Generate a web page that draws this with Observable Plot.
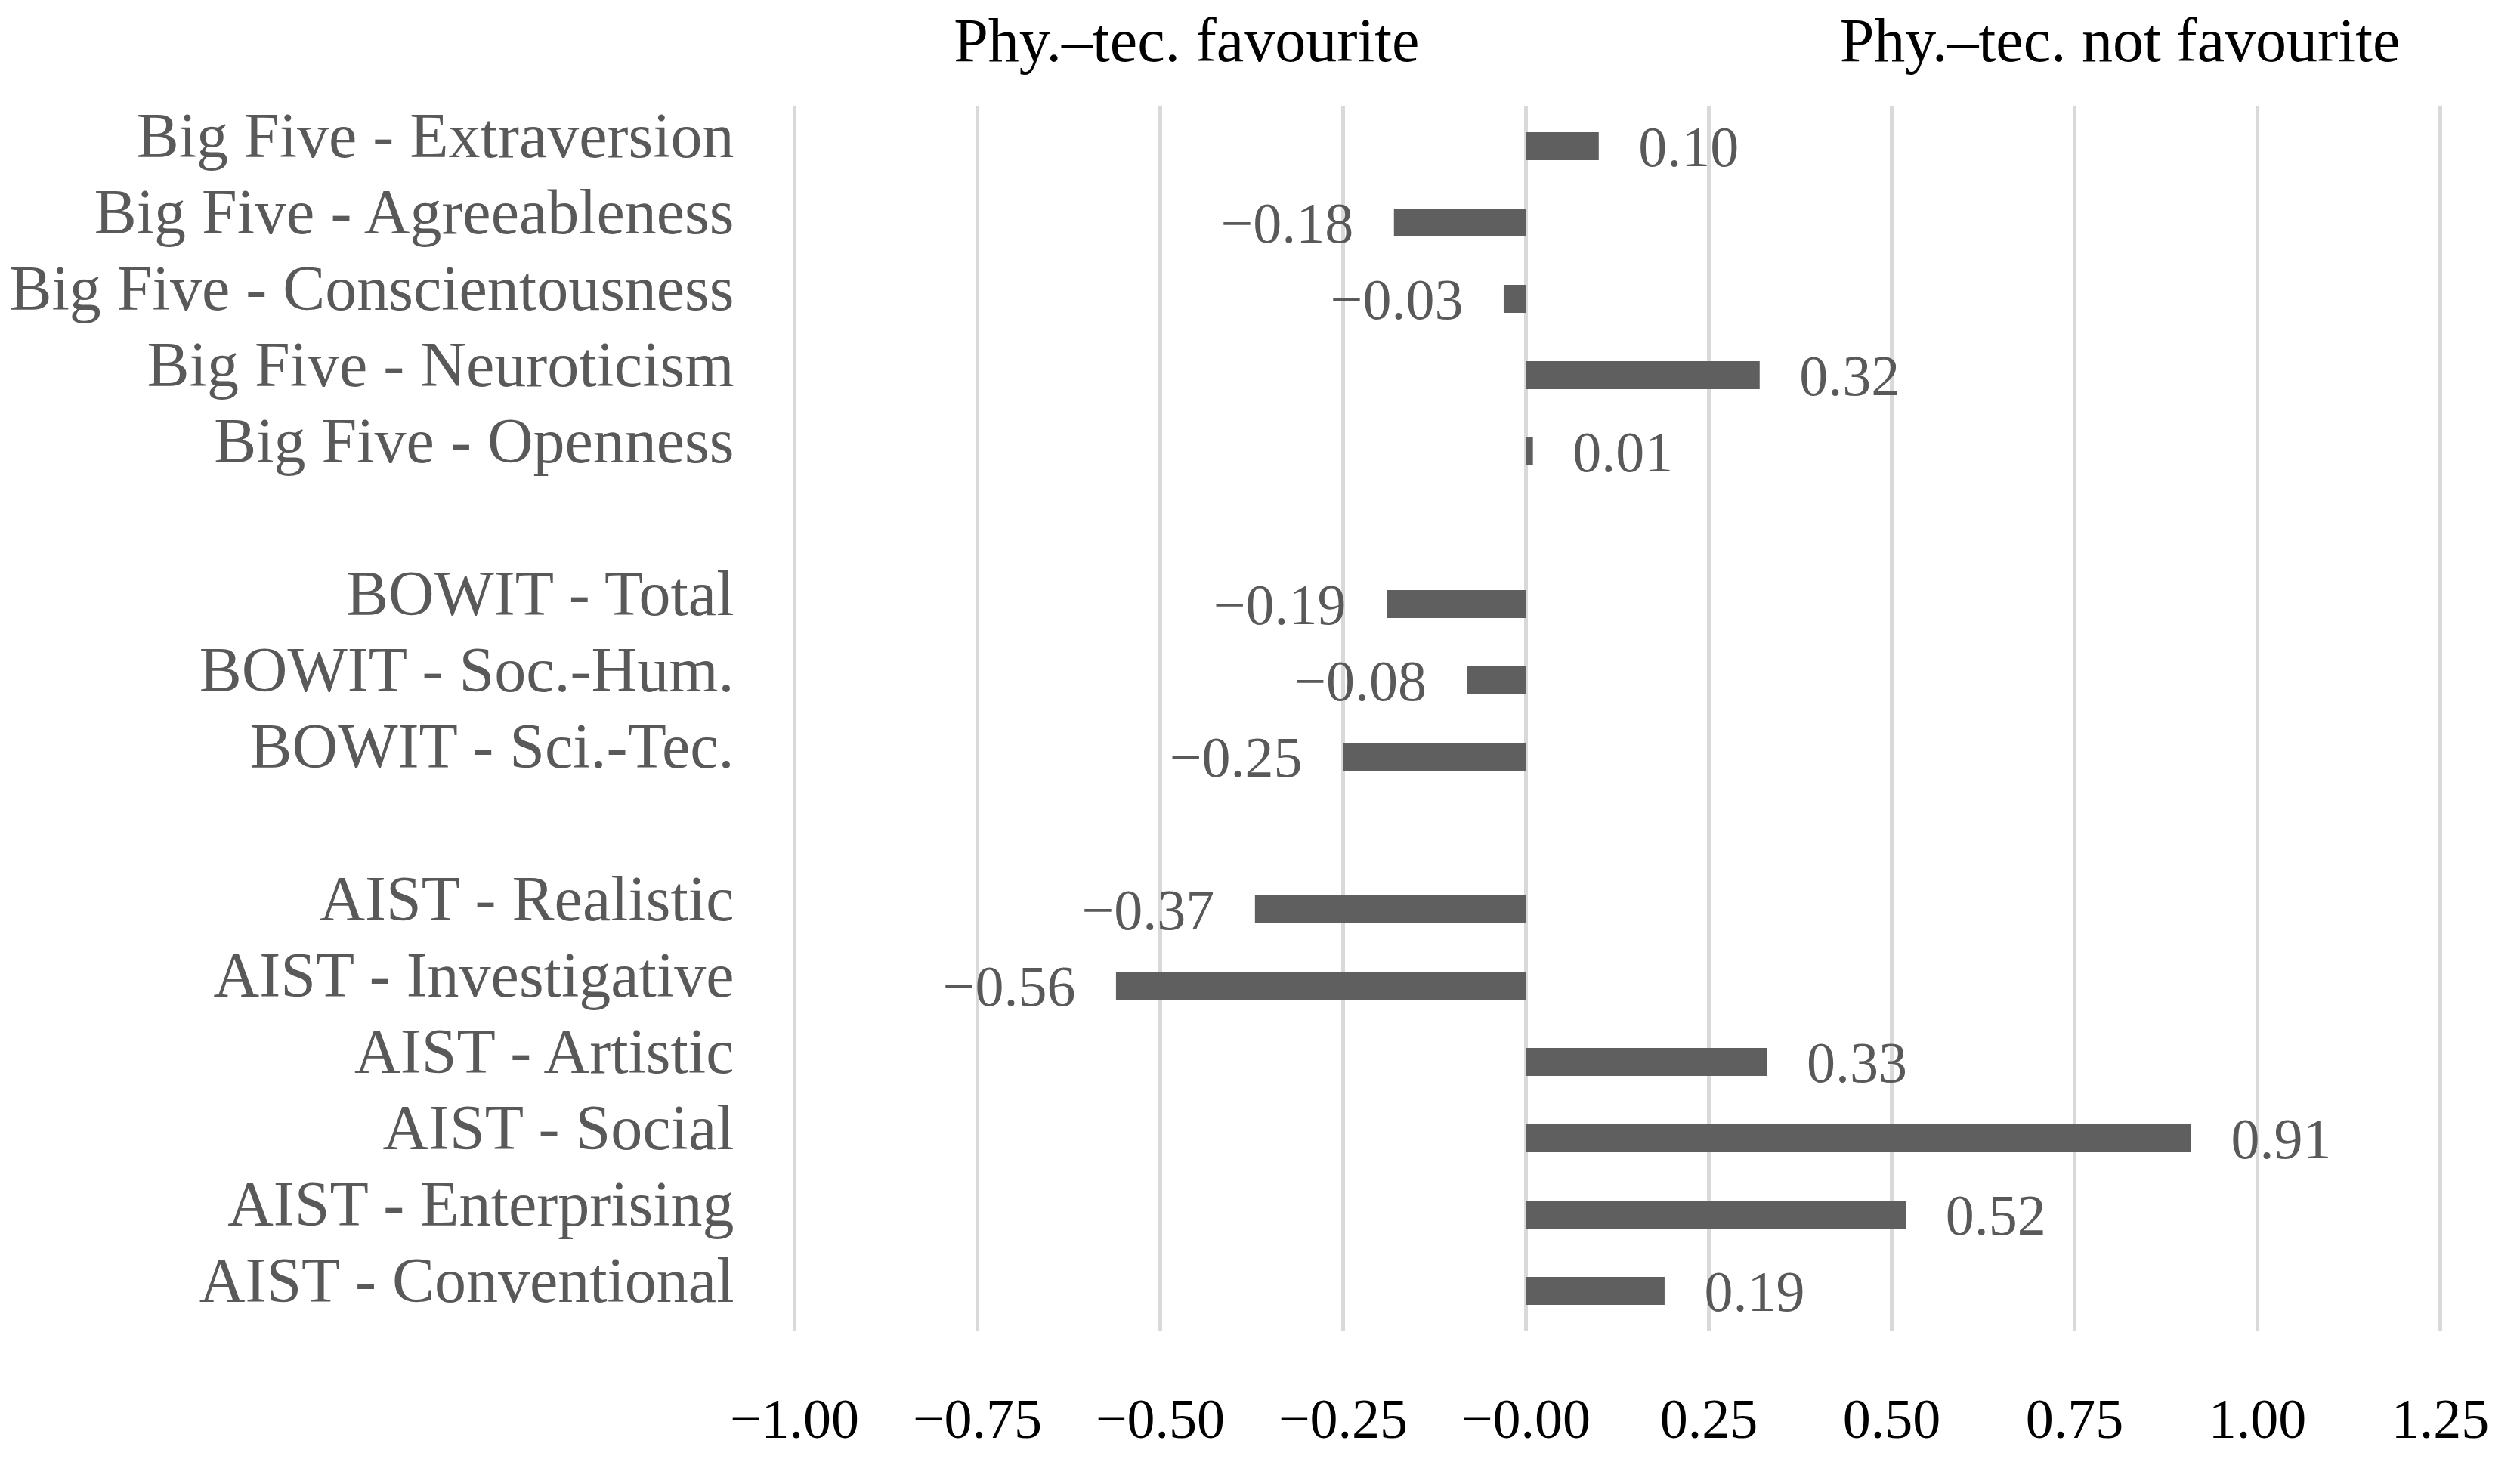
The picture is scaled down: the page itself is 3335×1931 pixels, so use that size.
<!DOCTYPE html>
<html>
<head>
<meta charset="utf-8">
<script src="https://cdn.jsdelivr.net/npm/d3@7"></script>
<script src="https://cdn.jsdelivr.net/npm/@observablehq/plot@0.6"></script>
<style>
  html, body { margin: 0; padding: 0; background: #ffffff; }
  #chart svg { display: block; }
</style>
</head>
<body>
<div id="chart"></div>
<script>
// ---- Data ----
const bigFive = ["Big Five - Extraversion", "Big Five - Agreeableness", "Big Five - Conscientousness", "Big Five - Neuroticism", "Big Five - Openness"];
const bigFiveValues = [0.10, -0.18, -0.03, 0.32, 0.01];

const bowit = ["BOWIT - Total", "BOWIT - Soc.-Hum.", "BOWIT - Sci.-Tec."];
const bowitValues = [-0.19, -0.08, -0.25];

const aist = ["AIST - Realistic", "AIST - Investigative", "AIST - Artistic", "AIST - Social", "AIST - Enterprising", "AIST - Conventional"];
const aistValues = [-0.37, -0.56, 0.33, 0.91, 0.52, 0.19];

const xTicks = [-1.00, -0.75, -0.50, -0.25, 0.00, 0.25, 0.50, 0.75, 1.00, 1.25];
const xTickLabels = ["−1.00", "−0.75", "−0.50", "−0.25", "−0.00", "0.25", "0.50", "0.75", "1.00", "1.25"];

const sideTitles = ["Phy.–tec. favourite", "Phy.–tec. not favourite"];

// ---- Build table ----
const categories = [...bigFive, ...bowit, ...aist];
const values = [...bigFiveValues, ...bowitValues, ...aistValues];
const data = categories.map((c, i) => ({category: c, value: values[i]}));
const rowDomain = [...bigFive, "gap-1", ...bowit, "gap-2", ...aist];
const tickLabelOf = new Map(xTicks.map((t, i) => [t, xTickLabels[i]]));
const fmt = d3.format(".2f");

const labelStyle = {x: "value", y: "category", text: d => fmt(d.value), fontSize: 76, fill: "#595959", dy: 2};

const chart = Plot.plot({
  width: 3335,
  height: 1931,
  marginLeft: 1051,
  marginRight: 106,
  marginTop: 140,
  marginBottom: 169,
  style: {fontFamily: "'Liberation Serif', serif", background: "#ffffff"},
  x: {domain: [-1, 1.25]},
  y: {domain: rowDomain, padding: 0},
  marks: [
    Plot.gridX(xTicks, {stroke: "#d9d9d9", strokeOpacity: 1, strokeWidth: 5}),
    Plot.barX(data, {x: "value", y: "category", fill: "#5f5f5f", insetTop: 32, insetBottom: 32}),
    Plot.text(data.filter(d => d.value < 0), {...labelStyle, textAnchor: "end", dx: -54}),
    Plot.text(data.filter(d => d.value >= 0), {...labelStyle, textAnchor: "start", dx: 52}),
    Plot.axisX({ticks: xTicks, tickFormat: d => tickLabelOf.get(d), tickSize: 0, tickPadding: 88, fontSize: 74, color: "#000000", label: null}),
    Plot.axisY({ticks: categories, tickSize: 0, tickPadding: 80, fontSize: 84, color: "#595959", dy: -13, label: null}),
    Plot.text(sideTitles, {x: [-0.464, 0.812], frameAnchor: "top", text: d => d, dy: -118, fontSize: 82, fill: "#000000"})
  ]
});
document.getElementById("chart").appendChild(chart);
</script>
</body>
</html>
